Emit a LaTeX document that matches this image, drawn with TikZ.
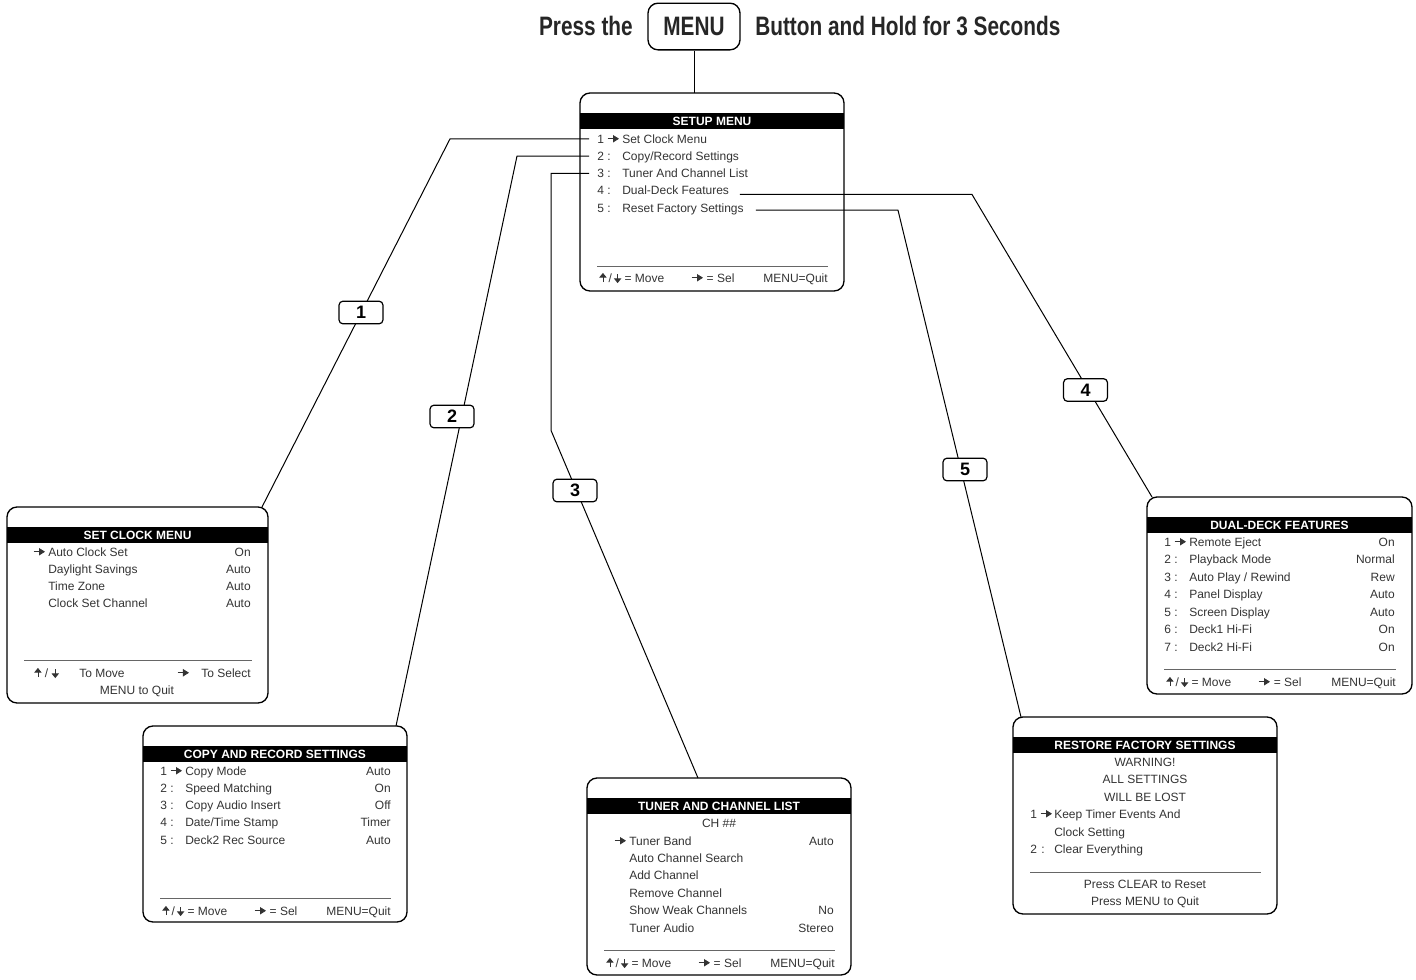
\documentclass[tikz,border=0pt]{standalone}
\usepackage{fontspec}
\setmainfont{Liberation Sans}
\newfontfamily\headfont{Liberation Sans}[FakeStretch=0.78]
\usetikzlibrary{arrows.meta, positioning, calc}

\newcommand{\selarr}{\tikz[x=1pt,y=1pt,baseline=-3.2pt]\draw[line width=0.6pt,-{Triangle[length=4.5pt,width=5.5pt]}] (0,0) -- (8.5pt,0);}
\newcommand{\uparr}{\tikz[x=1pt,y=1pt,baseline=0pt]\draw[line width=0.6pt,-{Triangle[length=3.5pt,width=5.5pt]}] (0,0) -- (0,6.8pt);}
\newcommand{\dnarr}{\tikz[x=1pt,y=1pt,baseline=0.8pt]\draw[line width=0.6pt,-{Triangle[length=3.5pt,width=5.5pt]}] (0,6.8pt) -- (0,0);}

\begin{document}
\begin{tikzpicture}[x=0.75pt, y=-0.75pt,
  menubox/.style={draw, line width=1pt, rounded corners=7.5pt, anchor=north west, outer sep=0pt, inner sep=0pt},
  bartitle/.style={anchor=base, inner sep=0pt, text=white, font=\fontsize{9}{10}\selectfont\bfseries},
  item/.style={anchor=base west, inner sep=0pt, text=black!80, font=\fontsize{9}{10}\selectfont},
  value/.style={item, anchor=base east},
  centred/.style={item, anchor=base},
  rule/.style={draw=black!60, line width=0.6pt},
  link/.style={line width=0.75pt},
  tag/.style={draw, line width=0.9pt, rounded corners=3pt, fill=white, minimum width=33pt, minimum height=17pt, inner sep=0pt, font=\fontsize{13.5}{14}\selectfont\bfseries},
  head/.style={inner sep=0pt, text=black!85, font=\headfont\fontsize{20}{20}\selectfont\bfseries}]

  \useasboundingbox (0,0) rectangle (1416,979);

  % heading
  \node[head, draw, line width=1pt, rounded corners=7.5pt, minimum width=69pt, minimum height=35pt] (menu) at (694,26.5) {MENU};
  \node[head, anchor=base east] (press) at (633,35.5) {Press the};
  \node[head, anchor=base west] (hold) at (755,35.5) {Button and Hold for 3 Seconds};

  % menu boxes with title bar and rule
  \foreach \nm/\bx/\by/\bw/\bh/\ttl/\sep in {
      su/580/93/264/198/SETUP MENU/173,
      clk/7/507/261/196/SET CLOCK MENU/153,
      cr/143/726/264/196/COPY AND RECORD SETTINGS/172,
      tn/587/778/264/197/TUNER AND CHANNEL LIST/172,
      dd/1147/497/265/197/DUAL-DECK FEATURES/172,
      rf/1013/717/264/197/RESTORE FACTORY SETTINGS/155} {
    \node[menubox, minimum width=\bw*0.75pt, minimum height=\bh*0.75pt] (\nm) at (\bx,\by) {};
    \fill ($(\nm.north west)+(0,19.5)$) rectangle ($(\nm.north east)+(0,36)$);
    \node[bartitle] (\nm-ttl) at ($(\nm.north)+(0,32)$) {\ttl};
    \draw[rule] ($(\nm.north west)+(17,\sep)$) -- ($(\nm.north east)+(-16,\sep)$);
  }

  % footers
  \foreach \nm in {su,cr,tn,dd} {
    \node[item] (\nm-f1) at ($(\nm.north west)+(19,189)$) {\uparr\,/\,\dnarr{} = Move};
    \node[item] (\nm-f2) at ($(\nm.north west)+(111,189)$) {\selarr{} = Sel};
    \node[value] (\nm-f3) at ($(\nm.north east)+(-16,189)$) {MENU=Quit};
  }

  % setup menu
  \foreach \rn/\rs/\rt [count=\i] in {1/\selarr/Set Clock Menu, 2/:/{Copy/Record Settings},
      3/:/Tuner And Channel List, 4/:/Dual-Deck Features, 5/:/Reset Factory Settings} {
    \node[item] (su-n\i) at (597,{143+(\i-1)*17.25}) {\rn};
    \node[item] (su-s\i) at (607,{143+(\i-1)*17.25}) {\rs};
    \node[item] (su-t\i) at (622,{143+(\i-1)*17.25}) {\rt};
  }

  % set clock menu
  \node[item] (clk-a) at (33,556) {\selarr};
  \foreach \rt/\rv [count=\i] in {Auto Clock Set/On, Daylight Savings/Auto, Time Zone/Auto, Clock Set Channel/Auto} {
    \node[item] (clk-t\i) at (48,{556+(\i-1)*17.3}) {\rt};
    \node[value] (clk-v\i) at (251,{556+(\i-1)*17.3}) {\rv};
  }
  \node[item] (clk-f1) at (34,677) {\uparr\ /\ \dnarr};
  \node[item] (clk-f2) at (79,677) {To Move};
  \node[value] (clk-f3) at (251,677) {\selarr\hspace{9pt}To Select};
  \node[centred] (clk-f4) at (137,694.5) {MENU to Quit};

  % copy and record settings
  \foreach \rn/\rs/\rt/\rv [count=\i] in {1/\selarr/Copy Mode/Auto, 2/:/Speed Matching/On,
      3/:/Copy Audio Insert/Off, 4/:/{Date/Time Stamp}/Timer, 5/:/Deck2 Rec Source/Auto} {
    \node[item] (cr-n\i) at (160,{775+(\i-1)*17.25}) {\rn};
    \node[item] (cr-s\i) at (170,{775+(\i-1)*17.25}) {\rs};
    \node[item] (cr-t\i) at (185,{775+(\i-1)*17.25}) {\rt};
    \node[value] (cr-v\i) at (391,{775+(\i-1)*17.25}) {\rv};
  }

  % tuner and channel list
  \node[centred] (tn-ch) at (719,827) {CH \#\#};
  \node[item] (tn-a) at (614,845) {\selarr};
  \foreach \rt/\rv [count=\i] in {Tuner Band/Auto, Auto Channel Search/, Add Channel/,
      Remove Channel/, Show Weak Channels/No, Tuner Audio/Stereo} {
    \node[item] (tn-t\i) at (629,{845+(\i-1)*17.4}) {\rt};
    \node[value] (tn-v\i) at (834,{845+(\i-1)*17.4}) {\rv};
  }

  % dual-deck features
  \foreach \rn/\rs/\rt/\rv [count=\i] in {1/\selarr/Remote Eject/On, 2/:/Playback Mode/Normal,
      3/:/{Auto Play / Rewind}/Rew, 4/:/Panel Display/Auto, 5/:/Screen Display/Auto,
      6/:/Deck1 Hi-Fi/On, 7/:/Deck2 Hi-Fi/On} {
    \node[item] (dd-n\i) at (1164,{546+(\i-1)*17.5}) {\rn};
    \node[item] (dd-s\i) at (1174,{546+(\i-1)*17.5}) {\rs};
    \node[item] (dd-t\i) at (1189,{546+(\i-1)*17.5}) {\rt};
    \node[value] (dd-v\i) at (1395,{546+(\i-1)*17.5}) {\rv};
  }

  % restore factory settings
  \node[centred] (rf-w1) at (1145,766) {WARNING!};
  \node[centred] (rf-w2) at (1145,783.5) {ALL SETTINGS};
  \node[centred] (rf-w3) at (1145,801) {WILL BE LOST};
  \node[item] (rf-n1) at (1030,818) {1};
  \node[item] (rf-s1) at (1040,818) {\selarr};
  \node[item] (rf-t1) at (1054,818) {Keep Timer Events And};
  \node[item] (rf-t1b) at (1054,836) {Clock Setting};
  \node[item] (rf-n2) at (1030,853) {2};
  \node[item] (rf-s2) at (1041,853) {:};
  \node[item] (rf-t2) at (1054,853) {Clear Everything};
  \node[centred] (rf-p1) at (1145,888) {Press CLEAR to Reset};
  \node[centred] (rf-p2) at (1145,905) {Press MENU to Quit};

  % connectors
  \draw[link] (menu.south) -- (menu.south |- su.north);
  \draw[link] ([xshift=-6pt]su-n1.west) -- ++(-139,0) -- ($(clk.north east)+(-6,0)$);
  \draw[link] ([xshift=-6pt]su-n2.west) -- ++(-72,0) -- ($(cr.north east)+(-11,0)$);
  \draw[link] ([xshift=-6pt]su-n3.west) -- ++(-38,0) -- ++(0,257) -- ($(tn.north west)+(111,0)$);
  \coordinate (s4) at ([shift={(8pt,-3pt)}]su-t4.east);
  \coordinate (s5) at ([shift={(9pt,-1pt)}]su-t5.east);
  \draw[link] (s4) -- (s4 -| 972,0) -- ($(dd.north west)+(5,0)$);
  \draw[link] (s5) -- (s5 -| 898,0) -- ($(rf.north west)+(8,0)$);

  % step tags
  \node[tag] (tag1) at (361,312.5) {1};
  \node[tag] (tag2) at (452,416.5) {2};
  \node[tag] (tag3) at (575,490.5) {3};
  \node[tag] (tag4) at (1085.5,390) {4};
  \node[tag] (tag5) at (965,469.5) {5};
\end{tikzpicture}
\end{document}
